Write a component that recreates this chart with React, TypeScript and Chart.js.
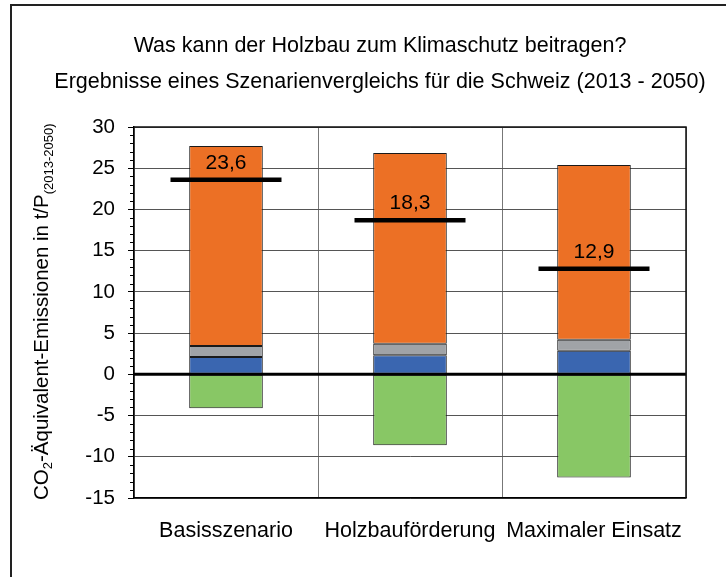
import React, { useEffect, useRef } from 'react';
import { Chart, registerables } from 'chart.js';

Chart.register(...registerables);

const FONT = '"Liberation Sans", Arial, Helvetica, sans-serif';

const categories = ['Basisszenario', 'Holzbauförderung', 'Maximaler Einsatz'];
const greenValues = [-4.1, -8.6, -12.5];
const blueValues = [2.1, 2.3, 2.85];
const grayValues = [1.35, 1.4, 1.35];
const orangeValues = [24.25, 23.15, 21.2];
const netValues = [23.6, 18.7, 12.8];
const netLabels = ['23,6', '18,3', '12,9'];
const yMin = -15;
const yMax = 30;
const yStep = 5;
const titleLines = [
  'Was kann der Holzbau zum Klimaschutz beitragen?',
  'Ergebnisse eines Szenarienvergleichs für die Schweiz (2013 - 2050)',
];

const decorPlugin = {
  id: 'decor',
  beforeDraw(chart: any) {
    const ctx = chart.ctx;
    ctx.save();
    ctx.fillStyle = '#fff';
    ctx.fillRect(0, 0, chart.width, chart.height);
    ctx.restore();
  },
  afterDatasetsDraw(chart: any) {
    const { ctx, chartArea: a } = chart;
    const x = chart.scales.x;
    const y = chart.scales.y;
    ctx.save();
    // zero line
    const y0 = y.getPixelForValue(0);
    ctx.strokeStyle = '#000';
    ctx.lineWidth = 3;
    ctx.beginPath();
    ctx.moveTo(a.left, y0);
    ctx.lineTo(a.right, y0);
    ctx.stroke();
    // top / right border
    ctx.lineWidth = 1.5;
    ctx.strokeStyle = '#111';
    ctx.beginPath();
    ctx.moveTo(a.left, a.top);
    ctx.lineTo(a.right, a.top);
    ctx.lineTo(a.right, a.bottom);
    ctx.stroke();
    // minor ticks
    ctx.lineWidth = 1;
    ctx.strokeStyle = '#000';
    for (let v = yMin; v <= yMax; v += 1) {
      if (v % yStep === 0) continue;
      const py = Math.round(y.getPixelForValue(v)) + 0.5;
      ctx.beginPath();
      ctx.moveTo(a.left - 4, py);
      ctx.lineTo(a.left, py);
      ctx.stroke();
    }
    // net labels
    ctx.fillStyle = '#000';
    ctx.font = `21px ${FONT}`;
    ctx.textAlign = 'center';
    ctx.textBaseline = 'middle';
    netLabels.forEach((t, i) => {
      const px = x.getPixelForValue(i);
      const py = y.getPixelForValue(netValues[i]) - 17;
      ctx.fillText(t, px, py);
    });
    ctx.restore();
  },
  afterDraw(chart: any) {
    const ctx = chart.ctx;
    ctx.save();
    // outer frame
    ctx.strokeStyle = '#222';
    ctx.lineWidth = 2;
    ctx.beginPath();
    ctx.moveTo(11, chart.height + 10);
    ctx.lineTo(11, 5);
    ctx.lineTo(chart.width + 10, 5);
    ctx.stroke();
    // title
    ctx.fillStyle = '#000';
    ctx.font = `21.5px ${FONT}`;
    ctx.textAlign = 'center';
    ctx.textBaseline = 'alphabetic';
    ctx.fillText(titleLines[0], 380, 52);
    ctx.fillText(titleLines[1], 380, 88);
    // y axis title with subscripts
    ctx.translate(48, 500);
    ctx.rotate(-Math.PI / 2);
    ctx.textAlign = 'left';
    let cx = 0;
    const seg = (t: string, size: number, dy: number) => {
      ctx.font = `${size}px ${FONT}`;
      ctx.fillText(t, cx, dy);
      cx += ctx.measureText(t).width;
    };
    seg('CO', 20.5, 0);
    seg('2', 13, 4);
    seg('-Äquivalent-Emissionen in t/P', 20.5, 0);
    seg('(2013-2050)', 13, 5);
    ctx.restore();
  },
};

export default function App() {
  const ref = useRef<HTMLCanvasElement | null>(null);

  useEffect(() => {
    if (!ref.current) return;
    const barCommon = {
      type: 'bar' as const,
      borderColor: '#1a1a1a',
      borderWidth: 1,
      borderSkipped: false as const,
      barPercentage: 0.4,
      categoryPercentage: 1.0,
      stack: 'main',
    };
    const chart = new Chart(ref.current, {
      type: 'bar',
      data: {
        labels: categories,
        datasets: [
          {
            type: 'line',
            label: 'Netto',
            data: netValues,
            stack: 'net',
            order: -1,
            showLine: false,
            pointStyle: 'line',
            pointRadius: 55.5,
            pointHoverRadius: 55.5,
            borderWidth: 4.5,
            pointBorderWidth: 4.5,
            borderColor: '#000',
            pointBorderColor: '#000',
            backgroundColor: '#000',
          } as any,
          { ...barCommon, label: 'Senke', data: greenValues, backgroundColor: '#88C765' },
          { ...barCommon, label: 'Blau', data: blueValues, backgroundColor: '#3A66B0' },
          { ...barCommon, label: 'Grau', data: grayValues, backgroundColor: '#A0A3A7' },
          { ...barCommon, label: 'Orange', data: orangeValues, backgroundColor: '#EC7025' },
        ],
      },
      options: {
        animation: false,
        responsive: false,
        maintainAspectRatio: false,
        layout: { autoPadding: false, padding: { top: 127, right: 40, bottom: 19, left: 0 } },
        plugins: {
          legend: { display: false },
          tooltip: { enabled: false },
          title: { display: false },
        },
        scales: {
          x: {
            stacked: true,
            grid: { offset: true, color: '#777', lineWidth: 1, drawTicks: false },
            border: { color: '#000', width: 1.5 },
            ticks: {
              color: '#000',
              font: { size: 21.5, family: FONT },
              padding: 20,
              maxRotation: 0,
              autoSkip: false,
            },
            afterFit(s: any) {
              s.height = 60;
              s.paddingLeft = 0;
              s.paddingRight = 0;
            },
          },
          y: {
            stacked: true,
            min: yMin,
            max: yMax,
            ticks: {
              stepSize: yStep,
              color: '#000',
              font: { size: 20.5, family: FONT },
              padding: 13,
            },
            grid: { color: '#555', tickLength: 6, tickColor: '#000', lineWidth: 1 },
            border: { color: '#000', width: 1.5 },
            afterFit(s: any) {
              s.width = 134;
              s.paddingTop = 0;
              s.paddingBottom = 0;
            },
          },
        },
      },
      plugins: [decorPlugin],
    });
    return () => chart.destroy();
  }, []);

  return (
    <div style={{ position: 'fixed', left: 0, top: 0, width: 726, height: 577, background: '#fff' }}>
      <canvas ref={ref} width={726} height={577} style={{ display: 'block', width: 726, height: 577 }} />
    </div>
  );
}
